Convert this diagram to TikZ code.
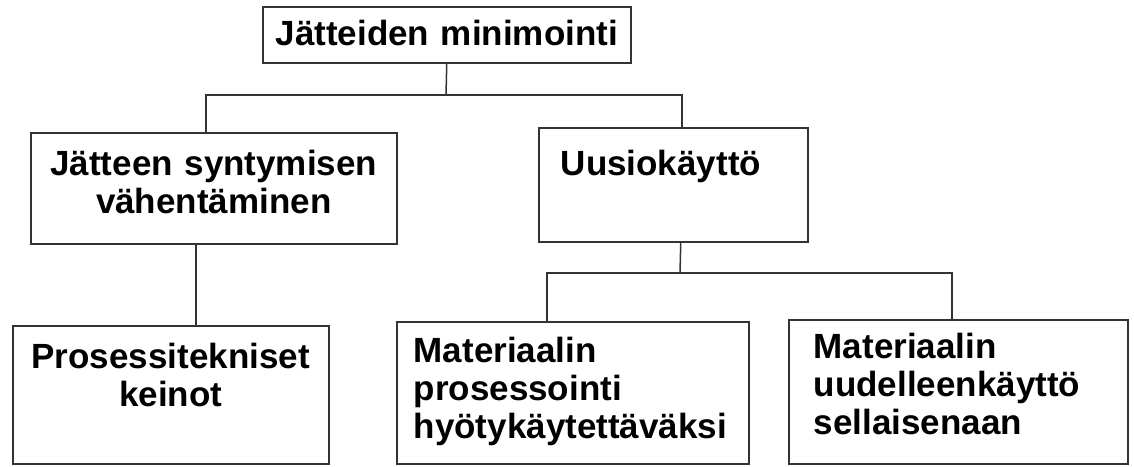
\documentclass[tikz,border=0pt]{standalone}
\usepackage{fontspec}
\setmainfont{Liberation Sans}
\begin{document}
\begin{tikzpicture}[x=1pt, y=-1pt,
		box/.style={draw=black!80, line width=1.5pt, inner ysep=0pt, anchor=north west, font=\bfseries\fontsize{35}{38}\selectfont},
		link/.style={draw=black!80, line width=1.5pt}]
				\useasboundingbox (0,0) rectangle (1134,466);

				% Top level
				\node[box, inner xsep=0pt, text width=368pt, align=center, text height=39pt, text depth=17pt] (minimointi) at (262,6) {Jätteiden minimointi};

				% Second level
				\node[box, inner xsep=0pt, text width=366pt, align=center, text height=43pt, text depth=68pt] (vahentaminen) at (30,132) {Jätteen syntymisen\\vähentäminen};
				\node[box, inner xsep=22pt, text width=225pt, align=left, text height=48pt, text depth=66pt] (uusiokaytto) at (538,127) {Uusiokäyttö};

				% Third level
				\node[box, inner xsep=0pt, text width=316pt, align=center, text height=43pt, text depth=95pt] (keinot) at (12,325) {Prosessitekniset\\keinot};
				\node[box, inner xsep=17pt, text width=318pt, align=left, text height=41pt, text depth=101pt] (prosessointi) at (396,321) {Materiaalin\\prosessointi\\hyötykäytettäväksi};
				\node[box, inner xsep=25pt, text width=289pt, align=left, text height=39pt, text depth=105pt] (sellaisenaan) at (788,319) {Materiaalin\\uudelleenkäyttö\\sellaisenaan};

				% Connectors
				\coordinate (topjoin) at (446,95);
				\coordinate (midjoin) at (680,273);
				\draw[link] (minimointi.south) -- (topjoin);
				\draw[link] ([xshift=-8pt]vahentaminen.north) |- (topjoin) -| ([xshift=8.5pt]uusiokaytto.north);
				\draw[link] ([xshift=-18pt]vahentaminen.south) -- ([xshift=25pt]keinot.north);
				\draw[link] ([xshift=7.5pt]uusiokaytto.south) -- (midjoin);
				\draw[link] ([xshift=-26pt]prosessointi.north) |- (midjoin) -| ([xshift=-6.5pt]sellaisenaan.north);
			\end{tikzpicture}
\end{document}
